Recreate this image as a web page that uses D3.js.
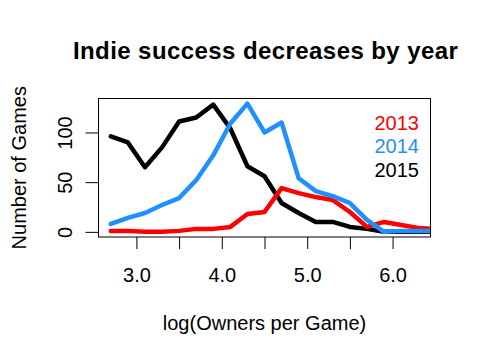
<!DOCTYPE html>
<html>
<head>
<meta charset="utf-8">
<script src="https://cdn.jsdelivr.net/npm/d3@7/dist/d3.min.js"></script>
<style>
  html, body { margin: 0; padding: 0; background: #fff; }
  text { font-family: "Liberation Sans", Arial, Helvetica, sans-serif; }
</style>
</head>
<body>
<svg id="chart" width="480" height="360"></svg>
<script>
// ---- data ----
const xValues = [2.7, 2.9, 3.1, 3.3, 3.5, 3.7, 3.9, 4.1, 4.3, 4.5, 4.7, 4.9, 5.1, 5.3, 5.5, 5.7, 5.9, 6.1, 6.3, 6.5];
const years = ["2013", "2014", "2015"];
const games2013 = [1, 1, 0, 0, 1, 3, 3, 5, 18, 20, 44, 39, 35, 32, 20, 5, 10, 7, 4, 3];
const games2014 = [8, 14, 19, 27, 34, 52, 77, 109, 129, 100, 110, 54, 41, 36, 29, 12, 0, 1, 1, 1];
const games2015 = [96, 90, 65, 85, 111, 115, 128, 104, 66, 56, 29, 19, 10, 10, 5, 3, 0, 0, 0, 0];
const xTicks = [3.0, 3.5, 4.0, 4.5, 5.0, 5.5, 6.0];
const xTickLabels = ["3.0", "", "4.0", "", "5.0", "", "6.0"];
const yTicks = [0, 50, 100];
const xLimits = [2.7, 6.3];
const yLimits = [0, 129];
const titleText = "Indie success decreases by year";
const xLabel = "log(Owners per Game)";
const yLabel = "Number of Games";

// ---- layout ----
const svg = d3.select("#chart");
svg.append("rect").attr("width", 480).attr("height", 360).attr("fill", "#fff");
const L = 98.5, R = 430.5, T = 98.5, B = 237;
const ext = (lim) => { const d = (lim[1] - lim[0]) * 0.04; return [lim[0] - d, lim[1] + d]; };
const x = d3.scaleLinear().domain(ext(xLimits)).range([L, R]);
const y = d3.scaleLinear().domain(ext(yLimits)).range([B, T]);

svg.append("defs").append("clipPath").attr("id", "clip")
  .append("rect").attr("x", L).attr("y", T).attr("width", R - L).attr("height", B - T);

const series = [
  { name: "2015", values: games2015, color: "#000000" },
  { name: "2013", values: games2013, color: "#FF0000" },
  { name: "2014", values: games2014, color: "#1E90FF" }
];
const line = d3.line().x((d, i) => x(xValues[i])).y(d => y(d));
const g = svg.append("g").attr("clip-path", "url(#clip)");
series.forEach(s => {
  g.append("path").datum(s.values)
    .attr("d", line)
    .attr("fill", "none")
    .attr("stroke", s.color)
    .attr("stroke-width", 4.5)
    .attr("stroke-linejoin", "round")
    .attr("stroke-linecap", "round");
});

// box
svg.append("rect").attr("x", L).attr("y", T).attr("width", R - L).attr("height", B - T)
  .attr("fill", "none").attr("stroke", "#000").attr("stroke-width", 1);

// x axis
const xAxis = d3.axisBottom(x).tickValues(xTicks).tickSize(12).tickPadding(20)
  .tickFormat((d, i) => xTickLabels[i]);
const gx = svg.append("g").attr("transform", `translate(0,${B})`).call(xAxis);
gx.select(".domain").remove();
gx.selectAll("text").attr("font-size", 20).attr("font-family", "Liberation Sans, Arial, sans-serif")
  .attr("fill", "#000").attr("dy", "0.71em").attr("y", 31);
gx.selectAll("line").attr("stroke", "#000");

// y axis
const yAxis = d3.axisLeft(y).tickValues(yTicks).tickSize(13).tickFormat(d3.format("d"));
const gy = svg.append("g").attr("transform", `translate(${L},0)`).call(yAxis);
gy.select(".domain").remove();
gy.selectAll("line").attr("stroke", "#000");
gy.selectAll("text")
  .attr("font-size", 20).attr("font-family", "Liberation Sans, Arial, sans-serif")
  .attr("fill", "#000")
  .attr("x", null).attr("dy", null)
  .attr("text-anchor", "middle")
  .attr("transform", "translate(-27,0) rotate(-90)");

// title
svg.append("text").attr("x", 265.4).attr("y", 58.5)
  .attr("text-anchor", "middle").attr("font-size", 24).attr("font-weight", "bold")
  .attr("textLength", 385).attr("lengthAdjust", "spacing")
  .text(titleText);

// axis labels
svg.append("text").attr("x", (L + R) / 2).attr("y", 330)
  .attr("text-anchor", "middle").attr("font-size", 20).text(xLabel);
svg.append("text").attr("transform", `translate(26,${(T + B) / 2}) rotate(-90)`)
  .attr("text-anchor", "middle").attr("font-size", 20).text(yLabel);

// legend
const legendColors = { "2013": "#FF0000", "2014": "#1E90FF", "2015": "#000000" };
years.forEach((yr, i) => {
  svg.append("text").attr("x", 419).attr("y", 130 + i * 23.4)
    .attr("text-anchor", "end").attr("font-size", 20)
    .attr("fill", legendColors[yr]).text(yr);
});
</script>
</body>
</html>
